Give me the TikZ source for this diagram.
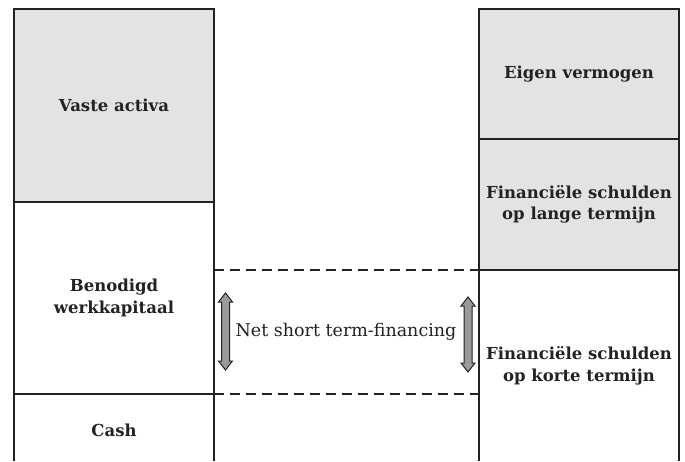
\documentclass[tikz,border=0pt]{standalone}
\usepackage{fontspec}
\setmainfont{DejaVu Serif}
\definecolor{linec}{HTML}{222222}
\definecolor{boxgray}{HTML}{E3E3E3}
\definecolor{arrgray}{HTML}{9A9A9A}
\tikzset{
  lbl/.style={font=\fontsize{16.5}{21.5}\selectfont\bfseries, text=linec, align=center, inner sep=0pt},
  box/.style={draw=linec, line width=2.5pt, minimum width=200pt, inner sep=0pt, outer sep=0pt, anchor=north},
  side/.style={draw=linec, line width=2.5pt},
  dashline/.style={draw=linec, line width=2pt, dash pattern=on 10pt off 6pt},
  pics/dblarr/.style={code={
    \draw[fill=arrgray, draw=linec, line width=1pt, line join=miter]
      (0,#1/2) -- ++(7,-9) -- ++(-3,0) -- (4,-#1/2+9) -- ++(3,0) -- (0,-#1/2)
      -- ++(-7,9) -- ++(3,0) -- (-4,#1/2-9) -- ++(-3,0) -- cycle;
  }},
}
\begin{document}
\begin{tikzpicture}[x=1pt,y=1pt]
\useasboundingbox (0,0) rectangle (685,461);
% left column
\node[box, fill=boxgray, minimum height=193pt] (va) at (114,452) {};
\node[box, minimum height=192pt] (bw) at (va.south) {};
\coordinate (cashL) at (14,0);
\coordinate (cashR) at (214,0);
\draw[side] (bw.south west) -- (cashL);
\draw[side] (bw.south east) -- (cashR);
% right column
\node[box, fill=boxgray, minimum height=130pt] (ev) at (579,452) {};
\node[box, fill=boxgray, minimum height=131pt] (fl) at (ev.south) {};
\coordinate (fkL) at (479,0);
\coordinate (fkR) at (679,0);
\draw[side] (fl.south west) -- (fkL);
\draw[side] (fl.south east) -- (fkR);
% labels
\node[lbl] (tva) at (va.center) {Vaste activa};
\node[lbl] (tbw) at (bw.center) {Benodigd\\werkkapitaal};
\node[lbl] (tcash) at (114,31) {Cash};
\node[lbl] (tev) at (ev.center) {Eigen vermogen};
\node[lbl] (tfl) at (fl.center) {Financiële schulden\\op lange termijn};
\node[lbl] (tfk) at (579,95) {Financiële schulden\\op korte termijn};
% dashed region
\draw[dashline] (bw.east |- fl.south) -- (fl.south west);
\draw[dashline] (bw.south east) -- (fl.west |- bw.south);
% arrows
\pic (al) at (225.5,129.5) {dblarr=77};
\pic (ar) at (468,126.5) {dblarr=75};
\node[font=\fontsize{17.5}{21}\selectfont, text=linec, inner sep=0pt] (nst) at (346,129) {Net short term-financing};
\end{tikzpicture}
\end{document}
